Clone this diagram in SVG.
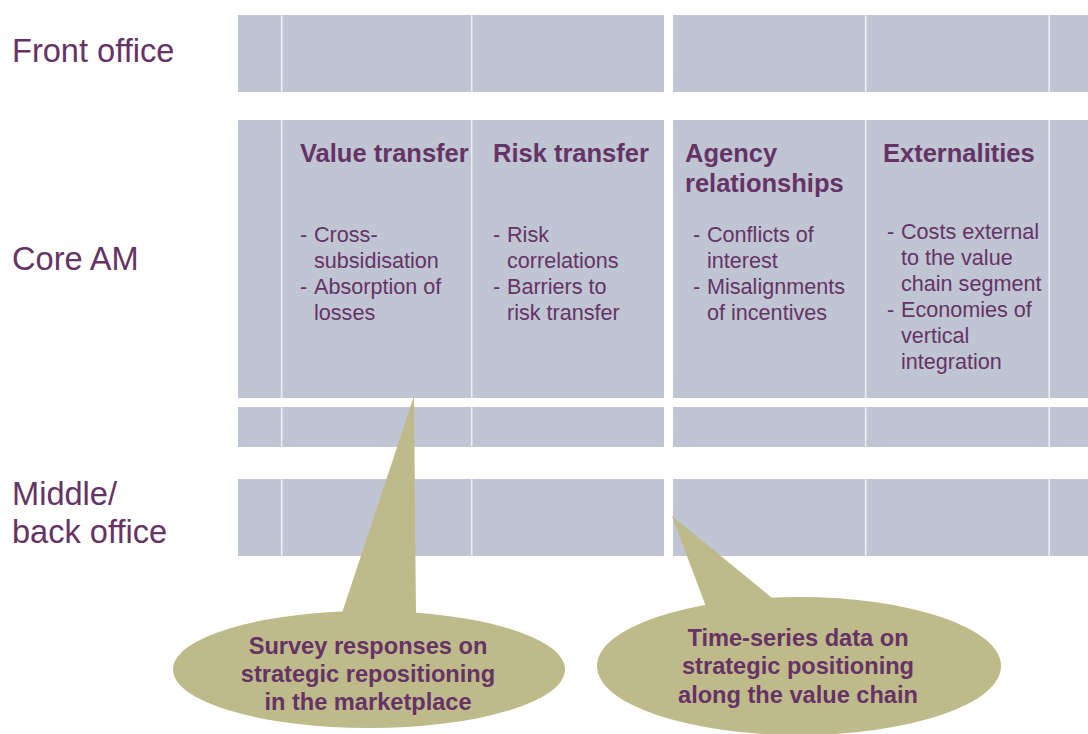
<svg xmlns="http://www.w3.org/2000/svg" width="1088" height="734" viewBox="0 0 1088 734">
<style>
.cell{fill:#BFC5D2}
.div{stroke:#ECEEF3;stroke-width:1.6}
.lbl{font-family:"Liberation Sans",Arial,sans-serif;font-size:32.6px;fill:#663366}
.hd{font-family:"Liberation Sans",Arial,sans-serif;font-size:25.5px;font-weight:bold;fill:#663366}
.bt{font-family:"Liberation Sans",Arial,sans-serif;font-size:21.6px;fill:#663366}
.co{fill:#BFBA8A}
.ct{font-family:"Liberation Sans",Arial,sans-serif;font-size:23.6px;font-weight:bold;fill:#663366;text-anchor:middle}
</style>
<rect width="1088" height="734" fill="#FFFFFF"/>
<g id="grid">
<rect class="cell" x="238" y="15" width="426" height="77"/>
<rect class="cell" x="673" y="15" width="415" height="77"/>
<rect class="cell" x="238" y="120" width="426" height="278"/>
<rect class="cell" x="673" y="120" width="415" height="278"/>
<rect class="cell" x="238" y="407" width="426" height="40"/>
<rect class="cell" x="673" y="407" width="415" height="40"/>
<rect class="cell" x="238" y="479" width="426" height="77"/>
<rect class="cell" x="673" y="479" width="415" height="77"/>
<g class="div">
<line x1="281.7" y1="15" x2="281.7" y2="92"/><line x1="471.7" y1="15" x2="471.7" y2="92"/><line x1="865.7" y1="15" x2="865.7" y2="92"/><line x1="1049.2" y1="15" x2="1049.2" y2="92"/>
<line x1="281.7" y1="120" x2="281.7" y2="398"/><line x1="471.7" y1="120" x2="471.7" y2="398"/><line x1="865.7" y1="120" x2="865.7" y2="398"/><line x1="1049.2" y1="120" x2="1049.2" y2="398"/>
<line x1="281.7" y1="407" x2="281.7" y2="447"/><line x1="471.7" y1="407" x2="471.7" y2="447"/><line x1="865.7" y1="407" x2="865.7" y2="447"/><line x1="1049.2" y1="407" x2="1049.2" y2="447"/>
<line x1="281.7" y1="479" x2="281.7" y2="556"/><line x1="471.7" y1="479" x2="471.7" y2="556"/><line x1="865.7" y1="479" x2="865.7" y2="556"/><line x1="1049.2" y1="479" x2="1049.2" y2="556"/>
</g>
</g>
<g id="row-labels">
<text class="lbl" x="12" y="62">Front office</text>
<text class="lbl" x="12" y="270">Core AM</text>
<text class="lbl" x="12" y="505">Middle/</text>
<text class="lbl" x="12" y="543">back office</text>
</g>
<g id="value-transfer">
<text class="hd" x="300" y="162">Value transfer</text>
<text class="bt" x="300" y="242">- </text><text class="bt" x="314" y="242">Cross-</text>
<text class="bt" x="314" y="268">subsidisation</text>
<text class="bt" x="300" y="294">- </text><text class="bt" x="314" y="294">Absorption of</text>
<text class="bt" x="314" y="320">losses</text>
</g>
<g id="risk-transfer">
<text class="hd" x="493" y="162">Risk transfer</text>
<text class="bt" x="493" y="242">- </text><text class="bt" x="507" y="242">Risk</text>
<text class="bt" x="507" y="268">correlations</text>
<text class="bt" x="493" y="294">- </text><text class="bt" x="507" y="294">Barriers to</text>
<text class="bt" x="507" y="320">risk transfer</text>
</g>
<g id="agency">
<text class="hd" x="685" y="162">Agency</text>
<text class="hd" x="685" y="192">relationships</text>
<text class="bt" x="693" y="242">- </text><text class="bt" x="707" y="242">Conflicts of</text>
<text class="bt" x="707" y="268">interest</text>
<text class="bt" x="693" y="294">- </text><text class="bt" x="707" y="294">Misalignments</text>
<text class="bt" x="707" y="320">of incentives</text>
</g>
<g id="externalities">
<text class="hd" x="883" y="162">Externalities</text>
<text class="bt" x="887" y="239">- </text><text class="bt" x="901" y="239">Costs external</text>
<text class="bt" x="901" y="265">to the value</text>
<text class="bt" x="901" y="291">chain segment</text>
<text class="bt" x="887" y="317">- </text><text class="bt" x="901" y="317">Economies of</text>
<text class="bt" x="901" y="343">vertical</text>
<text class="bt" x="901" y="369">integration</text>
</g>
<g id="connectors">
<polygon class="co" points="414,396 341,616 416,616"/>
<polygon class="co" points="672,516 708,612 782,606"/>
</g>
<g id="callout-survey">
<ellipse class="co" cx="369" cy="669.5" rx="196" ry="58.5"/>
<text class="ct" x="368" y="654">Survey responses on</text>
<text class="ct" x="368" y="682">strategic repositioning</text>
<text class="ct" x="368" y="710">in the marketplace</text>
</g>
<g id="callout-timeseries">
<ellipse class="co" cx="799" cy="666" rx="202" ry="69"/>
<text class="ct" x="798" y="646">Time-series data on</text>
<text class="ct" x="798" y="674">strategic positioning</text>
<text class="ct" x="798" y="703">along the value chain</text>
</g>
</svg>
